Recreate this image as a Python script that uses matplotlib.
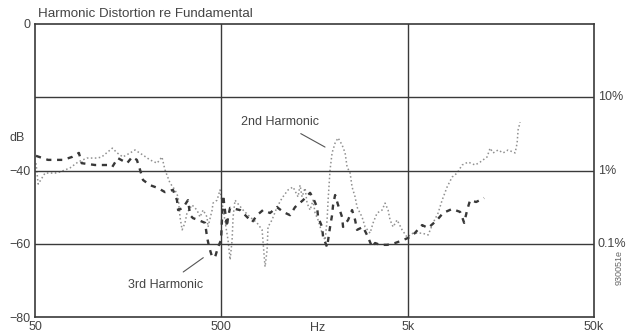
import matplotlib
matplotlib.use("Agg")
import matplotlib.pyplot as plt
import matplotlib.transforms as mtransforms

# 3rd harmonic (dashed)
h3_freq = [50.6, 58.7, 70.7, 79, 86, 89, 105, 122, 130, 139, 156, 166, 176, 183, 190,
           207, 229, 249, 275, 289, 293, 311, 331, 340, 352, 375, 409, 419, 430, 446,
           463, 480, 498, 511, 536, 543, 557, 630, 687, 731, 777, 837, 913, 995, 1072,
           1169, 1243, 1372, 1497, 1553, 1632, 1652, 1736, 1758, 1847, 1916, 1964, 1989,
           2039, 2115, 2222, 2250, 2394, 2515, 2610, 2675, 2880, 3064, 3220, 3342, 3555,
           3876, 4279, 4724, 5025, 5345, 5976, 6437, 7192, 7745, 8656, 9554, 9798, 10046,
           10424, 10814, 11647, 12853]
h3_db = [-36.0, -37.1, -37.1, -36.3, -35.2, -38.0, -38.5, -38.5, -39.0, -36.6, -38.0, -36.3,
         -37.1, -39.8, -42.6, -44.0, -44.8, -45.9, -45.3, -48.1, -50.8, -50.2, -48.1, -52.2,
         -53.0, -53.5, -54.3, -58.2, -60.9, -63.6, -63.6, -60.9, -59.0, -46.7, -55.4, -52.7,
         -50.2, -50.8, -52.7, -54.1, -52.2, -50.8, -51.6, -50.0, -51.3, -52.2, -50.0, -48.1,
         -46.1, -47.5, -50.0, -52.7, -55.4, -58.2, -60.9, -55.4, -52.2, -49.4, -46.7, -49.4,
         -52.7, -55.4, -53.5, -50.8, -53.5, -56.2, -55.4, -58.2, -60.9, -59.8, -60.3, -60.3,
         -59.8, -59.0, -58.4, -57.6, -54.9, -55.7, -53.5, -51.6, -50.5, -51.3, -52.7, -54.3,
         -50.8, -48.1, -48.6, -47.5]

# 2nd harmonic (dotted)
h2_freq = [50.6, 52, 56.6, 64, 68, 77, 85, 95, 108, 114, 130, 138, 148, 162, 172, 190, 207,
           226, 240, 249, 265, 282, 293, 300, 308, 319, 327, 348, 370, 384, 399, 419, 424,
           446, 451, 474, 492, 543, 557, 571, 578, 592, 654, 713, 777, 827, 858, 880, 890,
           935, 995, 1059, 1140, 1213, 1290, 1322, 1355, 1407, 1442, 1497, 1553, 1592, 1652,
           1736, 1802, 1847, 1870, 1916, 1964, 2039, 2115, 2222, 2307, 2364, 2454, 2515,
           2610, 2675, 2845, 2953, 3141, 3261, 3426, 3644, 3781, 3924, 4022, 4175, 4386,
           4666, 4963, 5345, 5976, 6437, 6846, 7282, 7652, 8137, 8656, 9206, 9798, 10553,
           11504, 12236, 13339, 13843, 14366, 15286, 16256, 17288, 18860, 19331, 19570, 20061]
h2_db = [-38.0, -43.7, -40.7, -40.7, -40.4, -39.3, -37.7, -36.6, -36.6, -36.3, -33.9, -35.2,
         -36.3, -35.2, -34.4, -35.8, -37.1, -38.0, -36.3, -39.8, -43.4, -45.3, -47.2, -52.7,
         -56.2, -54.3, -51.6, -49.4, -50.8, -52.7, -50.8, -52.7, -55.4, -50.8, -48.9, -48.1,
         -45.3, -59.0, -64.4, -59.0, -52.7, -48.1, -50.8, -52.7, -54.3, -56.2, -66.3, -61.7,
         -55.4, -53.5, -50.0, -47.5, -45.3, -44.5, -47.2, -44.0, -47.2, -44.8, -48.9, -50.8,
         -48.1, -51.6, -53.5, -57.1, -59.0, -53.5, -48.1, -39.8, -35.2, -32.5, -31.1, -33.0,
         -35.2, -39.0, -40.7, -44.5, -47.2, -50.0, -52.7, -55.4, -57.1, -54.3, -51.6, -50.8,
         -48.9, -50.8, -53.5, -55.4, -53.5, -56.2, -58.2, -57.1, -57.1, -57.6, -54.3, -51.6,
         -48.1, -44.5, -41.8, -40.7, -38.5, -37.7, -38.5, -37.7, -36.3, -33.9, -35.2, -34.4,
         -35.2, -34.4, -35.2, -32.5, -28.9, -26.8]

x_ticks = [50, 500, 5000, 50000]
x_labels = ["50", "500", "5k", "50k"]
y_ticks = [0, -40, -60, -80]
y_labels = ["0", "\u221240", "\u221260", "\u221280"]
pct_ticks = [-20, -40, -60]
pct_labels = ["10%", "1%", "0.1%"]

plt.rcParams['font.family'] = ['Liberation Sans', 'DejaVu Sans']
txt = '#444444'
edge = '#3a3a3a'

fig = plt.figure(figsize=(6.31, 3.36), dpi=100)
ax = fig.add_axes([0.0555, 0.0565, 0.8859, 0.8721])

ax.plot(h2_freq, h2_db, color='#909090', lw=1.1, linestyle=(0, (1, 1.6)))
ax.plot(h3_freq, h3_db, color='#383838', lw=1.7, linestyle=(0, (2.2, 2.4)))

ax.set_xscale('log')
ax.set_xlim(50, 50000)
ax.set_ylim(-80, 0)
ax.set_xticks(x_ticks)
ax.set_xticklabels(x_labels)
ax.minorticks_off()
ax.set_yticks(y_ticks)
ax.set_yticklabels(y_labels)
ax.tick_params(length=0, labelsize=9, colors=txt, pad=3)

for v in [500, 5000]:
    ax.axvline(v, color=edge, lw=1.0)
for v in [-20, -40, -60]:
    ax.axhline(v, color=edge, lw=1.0)
for s in ax.spines.values():
    s.set_color(edge)
    s.set_linewidth(1.2)

trans = mtransforms.blended_transform_factory(ax.transAxes, ax.transData)
for v, lab in zip(pct_ticks, pct_labels):
    ax.text(1.007, v, lab, transform=trans, ha='left', va='center', fontsize=9, color=txt)
ax.text(-0.018, -31, "dB", transform=trans, ha='right', va='center', fontsize=9, color=txt)

ax.text(0.006, 1.015, "Harmonic Distortion re Fundamental", transform=ax.transAxes,
        ha='left', va='bottom', fontsize=9.6, color=txt)

transx = mtransforms.blended_transform_factory(ax.transData, ax.transAxes)
ax.text(1650, -0.037, "Hz", transform=transx, ha='center', va='center', fontsize=9, color=txt)

ax.annotate("2nd Harmonic", xy=(1800, -33.6), xytext=(1033, -26.8), fontsize=9, color=txt,
            ha='center', va='center',
            arrowprops=dict(arrowstyle='-', color='#555555', lw=0.8, shrinkA=4, shrinkB=0))
ax.annotate("3rd Harmonic", xy=(400, -63.8), xytext=(250, -71.2), fontsize=9, color=txt,
            ha='center', va='center',
            arrowprops=dict(arrowstyle='-', color='#555555', lw=0.8, shrinkA=5, shrinkB=0))

ax.text(1.045, 0.17, "930051e", transform=ax.transAxes, rotation=90, ha='center',
        va='center', fontsize=6.5, color='#666666')

fig.savefig('out.png', dpi=100)
